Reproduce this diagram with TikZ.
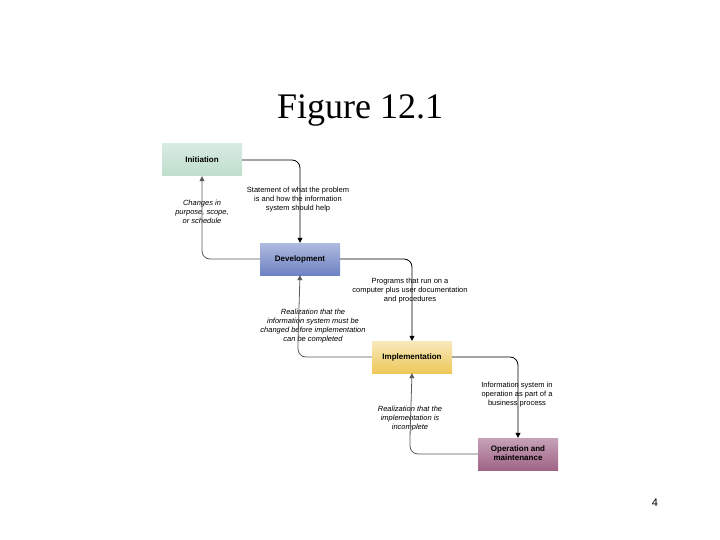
\documentclass[tikz,border=0pt]{standalone}
\usepackage{fontspec}
\setmainfont{Liberation Sans}
\newfontfamily\titlefont{Liberation Serif}
\usetikzlibrary{arrows.meta}
\definecolor{initc}{RGB}{190,222,205}
\definecolor{devc}{RGB}{110,130,195}
\definecolor{impc}{RGB}{238,200,90}
\definecolor{opc}{RGB}{160,100,135}
\begin{document}
\begin{tikzpicture}[x=1pt,y=-1pt]
    \tikzstyle{phase} = [rectangle, minimum width=80pt, minimum height=32pt, font=\fontsize{8}{9}\selectfont\bfseries, text centered]
    \tikzstyle{note} = [align=center, font=\fontsize{7.5}{9}\selectfont]
    \tikzstyle{back} = [align=center, font=\fontsize{7.5}{9}\selectfont\itshape]
    \tikzstyle{fwd} = [thick, -{Triangle[length=5pt,width=5pt]}, rounded corners=8pt]
    \tikzstyle{ret} = [gray!70!black, thick, -{Triangle[length=5pt,width=5pt]}, rounded corners=8pt]
    \useasboundingbox (0,0) rectangle (720,540);

    % Title
    \node [font=\titlefont\fontsize{36}{40}\selectfont] (title) at (360,110) {Figure 12.1};

    % Phases
    \node [phase, top color=initc!60, bottom color=initc] (initiation) at (202,160) {Initiation};
    \node [phase, top color=devc!55, bottom color=devc] (development) at (300,259) {Development};
    \node [phase, top color=impc!40, bottom color=impc] (implementation) at (412,357) {Implementation};
    \node [phase, top color=opc!60, bottom color=opc] (operation) at (518,454) {\begin{tabular}{@{}c@{}}Operation and\\maintenance\end{tabular}};

    % Forward notes
    \node [note] (n1) at (298,200) {Statement of what the problem\\is and how the information\\system should help};
    \node [note] (n2) at (410,291) {Programs that run on a\\computer plus user documentation\\and procedures};
    \node [note] (n3) at (517,395) {Information system in\\operation as part of a\\business process};

    % Return notes
    \node [back] (r1) at (202,212) {Changes in\\purpose, scope,\\or schedule};
    \node [back] (r2) at (313,326) {Realization that the\\information system must be\\changed before implementation\\can be completed};
    \node [back] (r3) at (410,419) {Realization that the\\implementation is\\incomplete};

    % Forward arrows
    \draw [fwd] (initiation.east) -| (development.north);
    \draw [fwd] (development.east) -| (implementation.north);
    \draw [fwd] (implementation.east) -| (operation.north);

    % Return arrows
    \draw [ret] (development.west) -| (r1.south) -- (initiation.south);
    \draw [ret] (implementation.west) -| (298,340) -- (development.south);
    \draw [ret] (operation.west) -| (r3.south) -- (implementation.south);

    % Page number
    \node [font=\fontsize{11}{12}\selectfont] (page) at (655,503) {4};
\end{tikzpicture}
\end{document}
